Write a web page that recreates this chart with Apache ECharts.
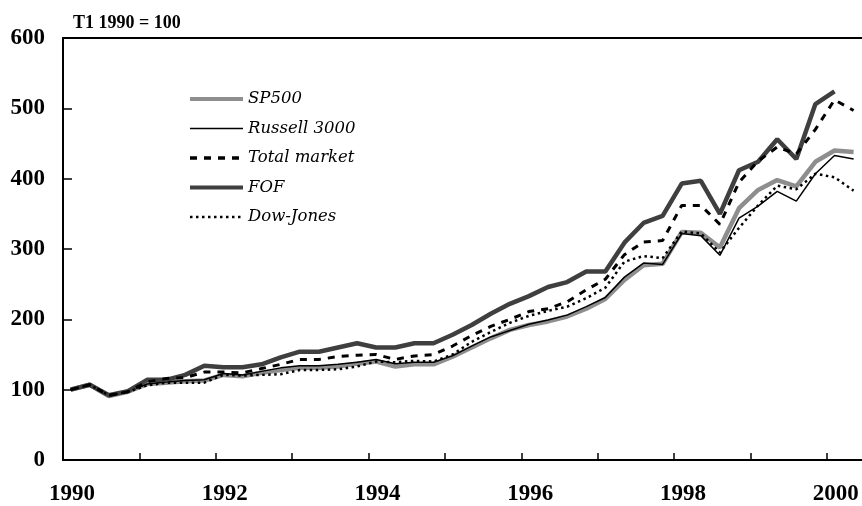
<!DOCTYPE html>
<html>
<head>
<meta charset="utf-8">
<script src="https://cdn.jsdelivr.net/npm/echarts@6/dist/echarts.min.js"></script>
<style>
  html, body { margin: 0; padding: 0; background: #fff; }
  #chart { width: 862px; height: 506px; }
</style>
</head>
<body>
<div id="chart"></div>
<script>
// trimestres T1 1990 .. T2 2000
var quarters = [
  'T1 1990', 'T2 1990', 'T3 1990', 'T4 1990',
  'T1 1991', 'T2 1991', 'T3 1991', 'T4 1991',
  'T1 1992', 'T2 1992', 'T3 1992', 'T4 1992',
  'T1 1993', 'T2 1993', 'T3 1993', 'T4 1993',
  'T1 1994', 'T2 1994', 'T3 1994', 'T4 1994',
  'T1 1995', 'T2 1995', 'T3 1995', 'T4 1995',
  'T1 1996', 'T2 1996', 'T3 1996', 'T4 1996',
  'T1 1997', 'T2 1997', 'T3 1997', 'T4 1997',
  'T1 1998', 'T2 1998', 'T3 1998', 'T4 1998',
  'T1 1999', 'T2 1999', 'T3 1999', 'T4 1999',
  'T1 2000', 'T2 2000'
];

var sp500 = [100, 107, 91, 97, 108, 110, 112, 113, 121, 119, 124, 128,
  131, 131, 133, 137, 140, 133, 136, 136, 147, 160, 173, 185,
  192, 197, 204, 215, 229, 256, 277, 279, 324, 323, 302, 358,
  384, 398, 389, 424, 440, 438];

var russell = [100, 107, 91, 97, 108, 111, 113, 114, 123, 121, 126, 131,
  134, 134, 136, 139, 143, 137, 139, 139, 148, 162, 175, 184,
  193, 199, 206, 218, 231, 260, 280, 278, 322, 319, 291, 344,
  361, 382, 368, 407, 433, 428];

var totalMarket = [100, 107, 92, 97, 111, 116, 117, 125, 125, 124, 130, 136,
  143, 143, 147, 149, 150, 143, 148, 150, 162, 177, 190, 200,
  211, 215, 225, 242, 257, 292, 310, 312, 362, 362, 335, 395,
  425, 445, 435, 470, 512, 497];

var fof = [100, 107, 92, 98, 114, 114, 121, 134, 132, 132, 136, 146,
  154, 154, 160, 166, 160, 160, 166, 166, 178, 192, 208, 222,
  233, 246, 253, 268, 268, 309, 337, 347, 393, 397, 350, 412,
  424, 456, 428, 506, 524, null];

var dowJones = [100, 107, 92, 97, 106, 110, 110, 110, 121, 120, 121, 122,
  128, 128, 129, 133, 140, 139, 141, 140, 150, 168, 182, 195,
  205, 212, 218, 230, 245, 282, 290, 287, 325, 322, 295, 330,
  362, 390, 385, 407, 402, 383];

var yearTicks = [1990, 1991, 1992, 1993, 1994, 1995, 1996, 1997, 1998, 1999, 2000];
var yearLabels = [1990, 1992, 1994, 1996, 1998, 2000];

// position d'un trimestre sur l'axe des années
function qx(label) {
  var q = parseInt(label.charAt(1), 10);
  var y = parseInt(label.slice(3), 10);
  return y + (q - 1) * 0.25 + 0.1;
}
function pairs(values) {
  return quarters.map(function (q, i) { return [qx(q), values[i]]; });
}

var serif = '"Liberation Serif", "DejaVu Serif", serif';

var chart = echarts.init(document.getElementById('chart'));
chart.setOption({
  animation: false,
  backgroundColor: '#fff',
  title: {
    text: 'T1 1990 = 100',
    left: 68,
    top: 9,
    textStyle: { fontFamily: serif, fontWeight: 'bold', fontSize: 18, color: '#000' }
  },
  grid: { left: 63, right: 0, top: 38, bottom: 41 },
  legend: {
    orient: 'vertical',
    left: 183,
    top: 84,
    itemWidth: 53,
    itemHeight: 10,
    itemGap: 9.5,
    itemStyle: { opacity: 0 },
    textStyle: { fontFamily: '"DejaVu Serif", serif', fontStyle: 'italic', fontSize: 16.5, color: '#000', lineHeight: 20 },
    data: [
      { name: 'SP500', lineStyle: { width: 4 } },
      { name: 'Russell 3000', lineStyle: { width: 1.5 } },
      { name: 'Total market', lineStyle: { width: 3.5 } },
      { name: 'FOF', lineStyle: { width: 4 } },
      { name: 'Dow-Jones', lineStyle: { width: 2.5 } }
    ]
  },
  xAxis: [{
    type: 'value',
    min: 1990,
    max: 2000.46,
    interval: 1,
    axisLine: { lineStyle: { color: '#000', width: 2 } },
    axisTick: { inside: true, length: 7, lineStyle: { color: '#000', width: 1.5 }, customValues: yearTicks },
    axisLabel: {
      customValues: yearLabels,
      margin: 23,
      padding: [0, 0, 0, 18],
      fontFamily: serif, fontWeight: 'bold', fontSize: 23, color: '#000',
      formatter: function (v) { return String(v); }
    },
    splitLine: { show: false }
  }, {
    type: 'value',
    position: 'top',
    min: 1990,
    max: 2000.46,
    axisLine: { show: true, onZero: false, lineStyle: { color: '#000', width: 2 } },
    axisTick: { show: false },
    axisLabel: { show: false },
    splitLine: { show: false }
  }],
  yAxis: {
    type: 'value',
    min: 0,
    max: 600,
    interval: 100,
    axisLine: { show: true, lineStyle: { color: '#000', width: 2 } },
    axisTick: { show: true, inside: true, length: 9, lineStyle: { color: '#000', width: 1.5 } },
    axisLabel: { margin: 18, fontFamily: serif, fontWeight: 'bold', fontSize: 23, color: '#000' },
    splitLine: { show: false }
  },
  series: [
    {
      name: 'SP500', type: 'line', symbol: 'none',
      lineStyle: { color: '#8e8e8e', width: 4.5 },
      itemStyle: { color: '#8e8e8e' },
      data: pairs(sp500)
    },
    {
      name: 'Russell 3000', type: 'line', symbol: 'none',
      lineStyle: { color: '#000', width: 1.5 },
      itemStyle: { color: '#000' },
      data: pairs(russell)
    },
    {
      name: 'FOF', type: 'line', symbol: 'none',
      lineStyle: { color: '#3f3f3f', width: 4.5 },
      itemStyle: { color: '#3f3f3f' },
      data: pairs(fof)
    },
    {
      name: 'Total market', type: 'line', symbol: 'none',
      lineStyle: { color: '#000', width: 3, type: [7, 7] },
      itemStyle: { color: '#000' },
      data: pairs(totalMarket)
    },
    {
      name: 'Dow-Jones', type: 'line', symbol: 'none',
      lineStyle: { color: '#000', width: 2.5, type: [2.5, 3.5] },
      itemStyle: { color: '#000' },
      data: pairs(dowJones)
    }
  ]
});
</script>
</body>
</html>
